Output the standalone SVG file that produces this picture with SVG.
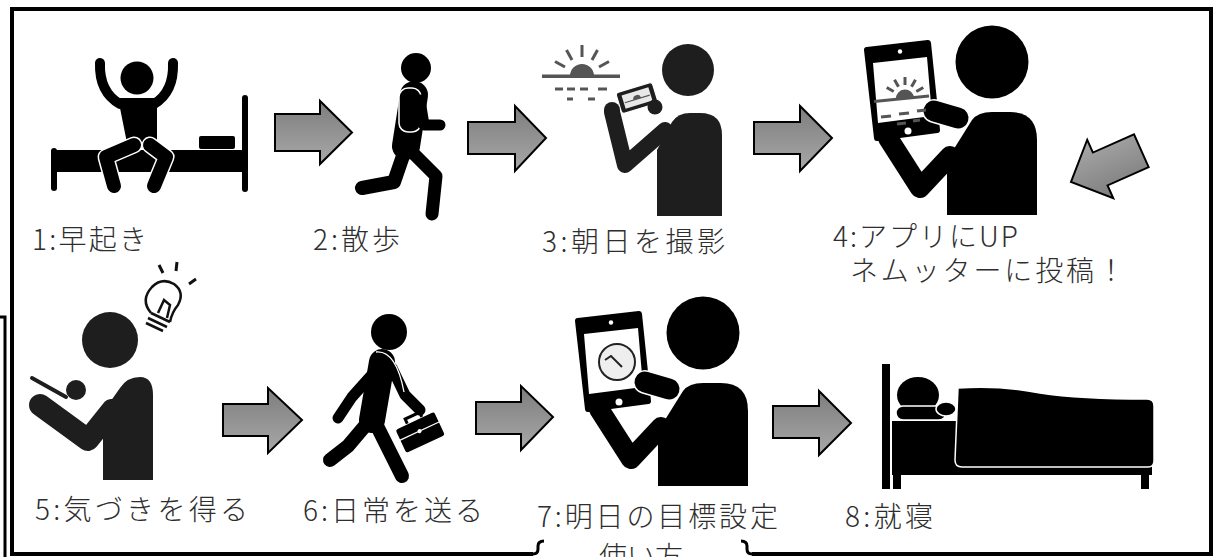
<svg xmlns="http://www.w3.org/2000/svg" width="1220" height="557" viewBox="0 0 1220 557">
  <style>
    .lbl { font-family: "Noto Sans CJK JP", "Noto Sans", sans-serif; font-size: 28px; fill: #2e2e2e; font-weight: 300; }
    .frame { fill: none; stroke: #000; stroke-width: 4; }
    .arrow { fill: url(#arrowFill); stroke: #000; stroke-width: 2; stroke-linejoin: miter; }
    .limb { fill: none; stroke-linecap: round; stroke-linejoin: round; }
    .ray { stroke: #555; stroke-width: 3; stroke-linecap: butt; fill: none; }
  </style>
  <defs>
    <linearGradient id="arrowFill" x1="0" y1="0" x2="0" y2="1">
      <stop offset="0" stop-color="#7d7d7d"/>
      <stop offset="1" stop-color="#a8a8a8"/>
    </linearGradient>
    <!-- person holding a tablet, drawn at the position of step 4 -->
    <g id="tabletPerson">
      <circle cx="992" cy="62" r="36.5" fill="#000"/>
      <path d="M947,215 V160 L972,120 Q978,112 992,112 H1010 Q1037,112 1037,140 V215 Z" fill="#000"/>
      <path d="M888,138 L920,188 L950,156" class="limb" stroke="#000" stroke-width="20"/>
      <path d="M867,50 L928,43 L937,130 L877,138 Z" fill="#000" stroke="#000" stroke-width="6" stroke-linejoin="round"/>
      <path d="M873,63 L927,57 L932,116 L878,123 Z" fill="#fff"/>
      <circle cx="900" cy="51.5" r="2.2" fill="#fff"/>
      <circle cx="908" cy="131" r="3.5" fill="#fff"/>
      <path d="M934,111 L958,118" class="limb" stroke="#fff" stroke-width="24"/>
      <path d="M934,111 L958,118" class="limb" stroke="#000" stroke-width="21"/>
    </g>
  </defs>

  <rect width="1220" height="557" fill="#fff"/>

  <!-- outer frame, broken at the bottom by the "使い方" brace -->
  <path class="frame" d="M533,554 H12 V9 H1211 V554 H752"/>
  <path d="M533,554 Q538,554 538,549 V546 Q538,541 544,541" fill="none" stroke="#000" stroke-width="3"/>
  <path d="M741,541 Q747,541 747,546 V549 Q747,554 752,554" fill="none" stroke="#000" stroke-width="3"/>
  <path d="M0,317 H5 V557" fill="none" stroke="#000" stroke-width="3"/>
  <text class="lbl" x="641" y="567" text-anchor="middle">使い方</text>

  <!-- step 1: waking up on the bed -->
  <g id="step1">
    <rect x="51" y="148" width="6" height="43" rx="3"/>
    <rect x="242" y="95" width="6" height="97" rx="3"/>
    <rect x="53" y="150" width="191" height="22"/>
    <rect x="199" y="136" width="36" height="13" rx="2"/>
    <circle cx="137" cy="78" r="16.5"/>
    <path d="M100,63 Q99,92 120,104" class="limb" stroke="#000" stroke-width="10"/>
    <path d="M173,63 Q174,92 154,104" class="limb" stroke="#000" stroke-width="10"/>
    <path d="M118,98 H157 L157,148 H128 Z"/>
    <path d="M134,145 L106,157 L114,186" class="limb" stroke="#fff" stroke-width="17"/>
    <path d="M134,145 L106,157 L114,186" class="limb" stroke="#000" stroke-width="14"/>
    <path d="M150,145 L166,157 L154,186" class="limb" stroke="#fff" stroke-width="17"/>
    <path d="M150,145 L166,157 L154,186" class="limb" stroke="#000" stroke-width="14"/>
    <text class="lbl" x="32" y="250" textLength="115" lengthAdjust="spacing">1:早起き</text>
  </g>

  <!-- step 2: a walk -->
  <g id="step2">
    <circle cx="416" cy="68" r="15"/>
    <path d="M405,150 L394,182 L362,188" class="limb" stroke="#000" stroke-width="14"/>
    <path d="M408,148 L436,176 L432,214" class="limb" stroke="#000" stroke-width="13"/>
    <path d="M414,95 L406,146" class="limb" stroke="#000" stroke-width="28"/>
    <rect x="399" y="88" width="22" height="44" rx="9" fill="#000" stroke="#fff" stroke-width="1.5"/>
    <path d="M420,100 L424,125 L440,125" class="limb" stroke="#000" stroke-width="11"/>
    <text class="lbl" x="313" y="250" textLength="87" lengthAdjust="spacing">2:散歩</text>
  </g>

  <!-- step 3: photographing the sunrise -->
  <g id="step3">
    <rect x="542" y="74.5" width="78" height="3.5" fill="#555"/>
    <path d="M570,76 A12,12 0 0 1 594,76 Z" fill="#555"/>
    <g class="ray">
      <line x1="582" y1="57" x2="582" y2="45"/>
      <line x1="592" y1="60" x2="597.5" y2="50"/>
      <line x1="599" y1="67" x2="609" y2="61.5"/>
      <line x1="572" y1="60" x2="566.5" y2="50"/>
      <line x1="565" y1="67" x2="555" y2="61.5"/>
      <line x1="555" y1="89" x2="563" y2="89"/>
      <line x1="567" y1="89" x2="575" y2="89"/>
      <line x1="580" y1="89" x2="588" y2="89"/>
      <line x1="598" y1="89" x2="607" y2="89"/>
      <line x1="567" y1="99" x2="573" y2="99"/>
      <line x1="588" y1="99" x2="595" y2="99"/>
    </g>
    <circle cx="688" cy="70" r="26" fill="#1e1e1e"/>
    <path d="M657,216 V150 L672,122 Q678,113 690,113 H700 Q722,113 722,135 V216 Z" fill="#1e1e1e"/>
    <path d="M665,130 L625,165 L612,112" class="limb" stroke="#1e1e1e" stroke-width="16"/>
    <g transform="translate(637,98) rotate(-17)">
      <rect x="-19" y="-11" width="38" height="22" rx="3" fill="#1e1e1e" stroke="#fff" stroke-width="1.2"/>
      <rect x="-14" y="-7" width="28" height="14" fill="#e8e8e8"/>
      <path d="M-4,1 A4,4 0 0 1 4,1 Z" fill="#555"/>
      <line x1="-13" y1="1" x2="13" y2="1" stroke="#555" stroke-width="1.2"/>
    </g>
    <circle cx="612" cy="110" r="8" fill="#1e1e1e"/>
    <circle cx="655" cy="107" r="7.5" fill="#1e1e1e"/>
    <text class="lbl" x="542" y="252" textLength="183" lengthAdjust="spacing">3:朝日を撮影</text>
  </g>

  <!-- step 4: uploading to the app -->
  <g id="step4">
    <use href="#tabletPerson"/>
    <g class="ray">
      <line x1="874" y1="101.5" x2="929" y2="96"/>
      <line x1="905" y1="85" x2="905" y2="77"/>
      <line x1="911.5" y1="86.7" x2="915.5" y2="79.7"/>
      <line x1="916.3" y1="91.5" x2="923.3" y2="87.5"/>
      <line x1="898.5" y1="86.7" x2="894.5" y2="79.7"/>
      <line x1="893.7" y1="91.5" x2="886.7" y2="87.5"/>
      <line x1="881" y1="117" x2="891" y2="116"/>
      <line x1="899" y1="114" x2="909" y2="113"/>
      <line x1="917" y1="111" x2="926" y2="110"/>
      <line x1="897" y1="124" x2="906" y2="123"/>
      <line x1="913" y1="121" x2="920" y2="120"/>
    </g>
    <path d="M896,99 A9,9 0 0 1 914,98 Z" fill="#555"/>
    <text class="lbl" x="833" y="247" textLength="185" lengthAdjust="spacing">4:アプリにUP</text>
    <text class="lbl" x="850" y="281" textLength="275" lengthAdjust="spacing">ネムッターに投稿！</text>
  </g>

  <!-- step 5: noticing something -->
  <g id="step5">
    <circle cx="110" cy="340" r="28" fill="#1e1e1e"/>
    <path d="M103,480 V412 L120,388 Q127,377 140,377 Q153,377 153,395 V480 Z" fill="#1e1e1e"/>
    <path d="M40,405 L88,440 L112,410" class="limb" stroke="#1e1e1e" stroke-width="22"/>
    <path d="M32,378 L66,397" class="limb" stroke="#fff" stroke-width="7"/>
    <path d="M32,378 L66,397" class="limb" stroke="#1e1e1e" stroke-width="4"/>
    <circle cx="76" cy="390" r="10" fill="#1e1e1e"/>
    <g fill="none" stroke="#111" stroke-width="2.5">
      <path d="M151,313 Q140,300 152,287 Q162,277 174,284 Q185,292 178,305 Q172,312 170,322"/>
      <path d="M151,313 L170,322"/>
      <path d="M148,318 L167,327 M146,323 L163,331"/>
      <path d="M158,313 L164,300 L170,305 L167,318"/>
      <path d="M159,265 L163,273 M177,262 L176,271 M196,279 L189,284" stroke-width="3"/>
    </g>
    <text class="lbl" x="35" y="520" textLength="213" lengthAdjust="spacing">5:気づきを得る</text>
  </g>

  <!-- step 6: everyday life -->
  <g id="step6">
    <circle cx="389" cy="332" r="18"/>
    <path d="M370,420 L348,446 L330,460" class="limb" stroke="#000" stroke-width="14"/>
    <path d="M374,420 L388,448 L402,476" class="limb" stroke="#000" stroke-width="14"/>
    <path d="M382,362 L372,420" class="limb" stroke="#000" stroke-width="26"/>
    <path d="M378,368 L352,397 L338,418" class="limb" stroke="#000" stroke-width="11"/>
    <path d="M392,368 L405,395 L420,410" class="limb" stroke="#000" stroke-width="11"/>
    <g transform="translate(420,432) rotate(-25)">
      <rect x="-22" y="-13" width="44" height="27" rx="3" fill="#000" stroke="#fff" stroke-width="1.5"/>
      <path d="M-8,-13 V-18 H8 V-13" fill="none" stroke="#000" stroke-width="3"/>
      <line x1="-22" y1="-1" x2="22" y2="-1" stroke="#fff" stroke-width="1.2"/>
      <circle cx="0" cy="-1" r="2" fill="#fff"/>
    </g>
    <path d="M376,352 Q396,350 404,392" fill="none" stroke="#fff" stroke-width="1.3"/>
    <text class="lbl" x="303" y="521" textLength="180" lengthAdjust="spacing">6:日常を送る</text>
  </g>

  <!-- step 7: setting tomorrow's goal -->
  <g id="step7">
    <use href="#tabletPerson" transform="translate(-289,271)"/>
    <circle cx="617" cy="362" r="18" fill="#eee" stroke="#222" stroke-width="2"/>
    <path d="M605,360 L611,356 L622,367" fill="none" stroke="#222" stroke-width="2"/>
    <text class="lbl" x="537" y="527" textLength="241" lengthAdjust="spacing">7:明日の目標設定</text>
  </g>

  <!-- step 8: going to bed -->
  <g id="step8">
    <rect x="882" y="364" width="8" height="125"/>
    <rect x="892" y="421" width="260" height="54"/>
    <rect x="893" y="470" width="8" height="19"/>
    <rect x="1141" y="470" width="8" height="19"/>
    <ellipse cx="918" cy="395" rx="21" ry="18"/>
    <rect x="896" y="406" width="50" height="14" rx="7" stroke="#fff" stroke-width="1.5"/>
    <ellipse cx="946" cy="409" rx="10" ry="7" stroke="#fff" stroke-width="1.5"/>
    <path d="M958,388 Q1000,385 1040,393 Q1080,399 1147,399 Q1154,399 1154,406 V461 Q1154,467 1148,467 H962 Q955,467 955,460 Z" stroke="#fff" stroke-width="1.5"/>
    <text class="lbl" x="845" y="527" textLength="88" lengthAdjust="spacing">8:就寝</text>
  </g>

  <!-- flow arrows -->
  <g id="connectors">
    <path class="arrow" d="M275,114 H320 V101 L352,132.5 L320,164 V151 H275 Z"/>
    <path class="arrow" d="M468,122 H515 V106 L546,138 L515,171 V154 H468 Z"/>
    <path class="arrow" d="M754,122 H800 V106 L832,138 L800,171 V154 H754 Z"/>
    <path class="arrow" transform="translate(1071,182) rotate(156)" d="M-77,-18 H-32 V-32 L0,0 L-32,32 V18 H-77 Z"/>
    <path class="arrow" d="M223,404 H268 V388 L302,420 L268,453 V436 H223 Z"/>
    <path class="arrow" d="M476,402 H521 V386 L553,417 L521,450 V434 H476 Z"/>
    <path class="arrow" d="M773,406 H819 V391 L851,423 L819,455 V438 H773 Z"/>
  </g>
</svg>
